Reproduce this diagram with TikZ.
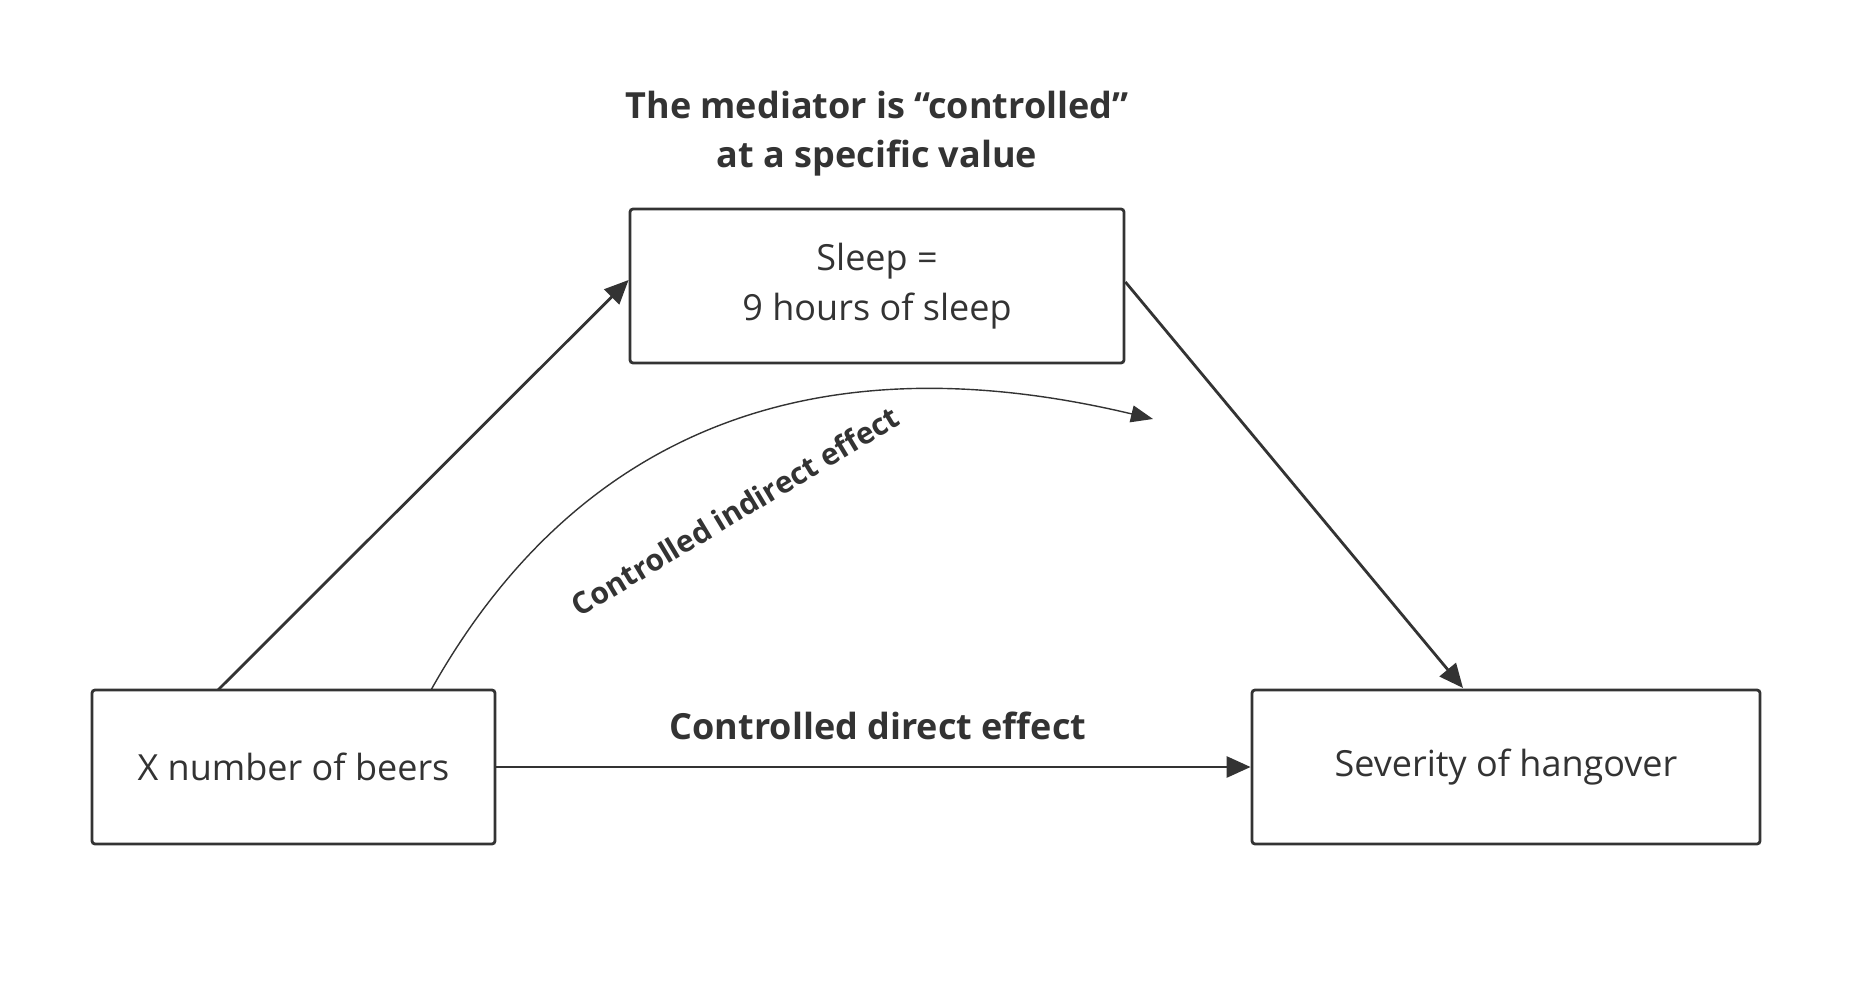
\documentclass[tikz,border=0pt]{standalone}
\usepackage{fontspec}
\setmainfont{Open Sans}
\usetikzlibrary{arrows.meta}
\definecolor{ink}{HTML}{333333}

\begin{document}
\begin{tikzpicture}[x=1pt,y=-1pt]
    \tikzstyle{box}=[draw=ink, line width=2.8pt, rounded corners=3pt, text=ink, align=center, font=\fontsize{36}{50}\selectfont]
    \tikzstyle{tag}=[text=ink, align=center, font=\bfseries\fontsize{36}{49}\selectfont]
    \tikzstyle{link}=[draw=ink, line width=2.8pt, -{Triangle[length=24pt,width=21pt]}]
    \useasboundingbox[fill=white] (0,0) rectangle (1865,1003);
    \node[tag] (title) at (877,134) {The mediator is “controlled”\\at a specific value};
    \node[box, minimum width=494pt, minimum height=154pt] (sleep) at (877,286) {Sleep =\\9 hours of sleep};
    \node[box, minimum width=403pt, minimum height=154pt] (beers) at (293.5,767) {X number of beers};
    \node[box, minimum width=508pt, minimum height=154pt] (hang) at (1506,767) {Severity of hangover};
    \coordinate (cstart) at (431,690);
    \coordinate (cend) at (1153,419);
    \draw[link] (218,690) -- (sleep.west |- 0,280);
    \draw[link] (sleep.east |- 0,282) -- (1463,688);
    \draw[link] (beers) -- (hang);
    \node[tag] (direct) at (878,726) {Controlled direct effect};
    \draw[draw=ink, line width=1.4pt, -{Triangle[length=22pt,width=17pt]}] (cstart) .. controls (560,460) and (780,330) .. (cend);
    \node[tag, rotate=31, font=\bfseries\fontsize{30}{36}\selectfont] (indirect) at (735,511) {Controlled indirect effect};
\end{tikzpicture}
\end{document}
